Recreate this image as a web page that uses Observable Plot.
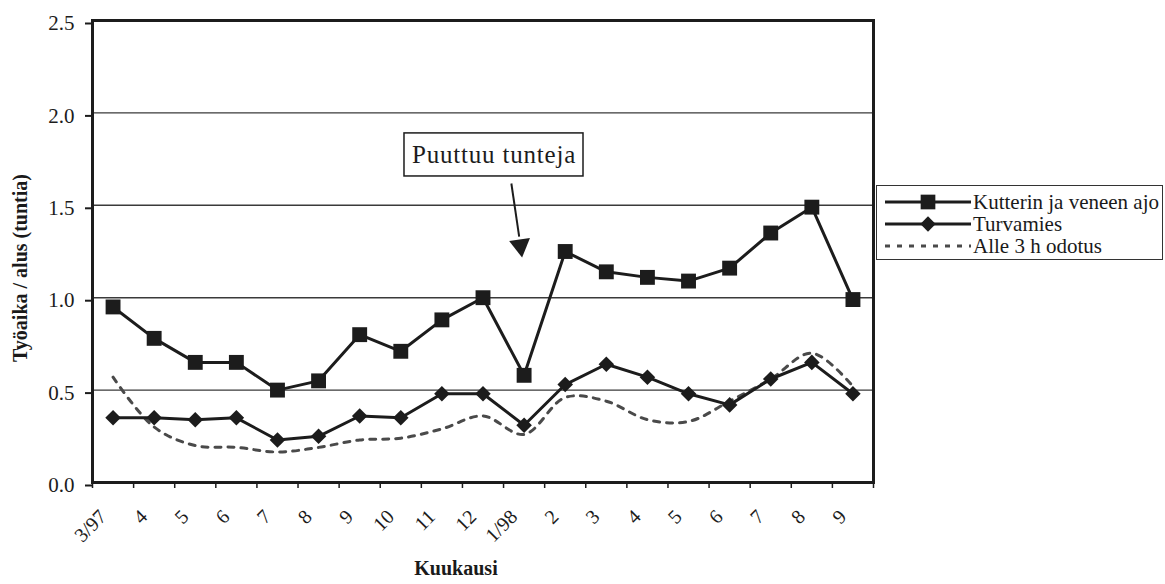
<!DOCTYPE html>
<html>
<head>
<meta charset="utf-8">
<script src="https://cdn.jsdelivr.net/npm/d3@7"></script>
<script src="https://cdn.jsdelivr.net/npm/@observablehq/plot@0.6"></script>
<style>
  html, body { margin: 0; padding: 0; background: #fff; }
  #wrap { position: relative; width: 1165px; height: 584px; color: #1a1a1a; }
  #chart { position: absolute; left: 0; top: 0; }
  .ytitle { position: absolute; left: 20px; top: 268px; transform: translate(-50%, -50%) rotate(-90deg); font-weight: bold; font-size: 20px; white-space: nowrap; line-height: 1; }
  .xtitle { position: absolute; left: 456px; top: 580px; transform: translate(-50%, -100%); font-weight: bold; font-size: 20px; white-space: nowrap; }
  .legend { position: absolute; left: 876px; top: 185px; width: 287px; height: 75px; border: 1.5px solid #333; box-sizing: border-box; background: #fff; }
  .legend .row { position: absolute; left: 0; height: 22px; display: flex; align-items: center; font-size: 21px; white-space: nowrap; }
  .legend svg { display: block; }
</style>
</head>
<body>
<div id="wrap">
  <div id="chart"></div>
  <div class="ytitle">Työaika / alus (tuntia)</div>
  <div class="xtitle">Kuukausi</div>
  <div class="legend" id="legend"></div>
</div>
<script>
// ---- data ----
const months = ["3/97","4","5","6","7","8","9","10","11","12","1/98","2","3","4","5","6","7","8","9"];
const kutteri = [0.95,0.78,0.65,0.65,0.50,0.55,0.80,0.71,0.88,1.00,0.58,1.25,1.14,1.11,1.09,1.16,1.35,1.49,0.99];
const turvamies = [0.35,0.35,0.34,0.35,0.23,0.25,0.36,0.35,0.48,0.48,0.31,0.53,0.64,0.57,0.48,0.42,0.56,0.65,0.48];
const odotus = [0.57,0.30,0.20,0.19,0.165,0.19,0.23,0.24,0.29,0.36,0.26,0.46,0.44,0.34,0.33,0.44,0.56,0.70,0.52];
const seriesNames = ["Kutterin ja veneen ajo", "Turvamies", "Alle 3 h odotus"];
const yTicks = [0, 0.5, 1.0, 1.5, 2.0, 2.5];
const noteText = "Puuttuu tunteja";
const noteBox = [7.09, 11.445, 1.656, 1.889];     // x1, x2 (category index), y1, y2 (value)
const noteArrow = [9.69, 1.618, 9.88, 1.33];      // from x,y to x,y
const noteHead = [9.91, 1.282];

// pick an installed Times-like font
function pickFont(cands) {
  const c = document.createElement("canvas").getContext("2d");
  const s = "Puuttuu tunteja 0123456789 Kutterin";
  for (const f of cands) {
    for (const base of ["monospace", "sans-serif"]) {
      c.font = `20px ${base}`; const w0 = c.measureText(s).width;
      c.font = `20px "${f}", ${base}`; const w1 = c.measureText(s).width;
      if (Math.abs(w0 - w1) > 0.5) return f;
    }
  }
  return "serif";
}
const fontName = pickFont(["Liberation Serif", "Tinos", "Times New Roman", "Times", "DejaVu Serif"]);
const fontFamily = `"${fontName}", serif`;
document.getElementById("wrap").style.fontFamily = fontFamily;

const idx = d3.range(months.length);
const kData = idx.map(i => ({i, v: kutteri[i]}));
const tData = idx.map(i => ({i, v: turvamies[i]}));
const oData = idx.map(i => ({i, v: odotus[i]}));
const ink = "#1c1c1c";

const plot = Plot.plot({
  width: 1165,
  height: 584,
  marginLeft: 92,
  marginRight: 292,
  marginTop: 20,
  marginBottom: 102,
  style: {fontFamily, background: "#fff", color: ink},
  x: {type: "linear", domain: [-0.5, months.length - 0.5]},
  y: {domain: [0, 2.5]},
  marks: [
    Plot.gridY(yTicks, {stroke: "#3a3a3a", strokeOpacity: 1, strokeWidth: 1.4}),
    Plot.axisY(yTicks, {tickFormat: d3.format(".1f"), tickSize: 7, tickPadding: 11, fontSize: 21, stroke: ink, strokeWidth: 2, label: null, dy: 3}),
    Plot.axisX(d3.range(-0.5, months.length), {tickSize: 6, tickFormat: () => "", stroke: ink, strokeWidth: 1.5, label: null}),
    Plot.axisX(idx, {tickSize: 0, tickPadding: 34, tickRotate: -45, tickFormat: i => months[i], fontSize: 20, label: null, textAnchor: "end", dx: -10, dy: -3}),
    Plot.line(oData, {x: "i", y: "v", curve: "catmull-rom", stroke: "#4a4a4a", strokeWidth: 3, strokeDasharray: "6,7"}),
    Plot.line(tData, {x: "i", y: "v", stroke: ink, strokeWidth: 3}),
    Plot.dot(tData, {x: "i", y: "v", symbol: "diamond2", r: 7.0, fill: ink, stroke: "none"}),
    Plot.line(kData, {x: "i", y: "v", stroke: ink, strokeWidth: 3}),
    Plot.dot(kData, {x: "i", y: "v", symbol: "square", r: 8.4, fill: ink, stroke: "none"}),
    Plot.rect([noteBox], {x1: d => d[0], x2: d => d[1], y1: d => d[2], y2: d => d[3], fill: "#fff", stroke: ink, strokeWidth: 1.5}),
    Plot.text([noteText], {x: (noteBox[0] + noteBox[1]) / 2, y: (noteBox[2] + noteBox[3]) / 2, text: d => d, fontSize: 25, fill: ink, className: "note"}),
    Plot.link([noteArrow], {x1: d => d[0], y1: d => d[1], x2: d => d[2], y2: d => d[3], stroke: ink, strokeWidth: 2}),
    Plot.dot([noteHead], {x: d => d[0], y: d => d[1], symbol: "triangle", r: 7.8, rotate: 172, fill: ink, stroke: "none"}),
    Plot.frame({stroke: ink, strokeWidth: 3})
  ]
});
d3.select(plot).selectAll(".note text").style("letter-spacing", "0.8px");
document.getElementById("chart").appendChild(plot);

// ---- legend (HTML) ----
const legend = document.getElementById("legend");
const rowsY = [5, 27, 49];
const markers = ["square", "diamond", "none"];
seriesNames.forEach((name, k) => {
  const row = document.createElement("div");
  row.className = "row";
  row.style.top = rowsY[k] + "px";
  const s = d3.create("svg").attr("width", 96).attr("height", 22);
  if (markers[k] === "none") {
    s.append("line").attr("x1", 8).attr("x2", 94).attr("y1", 11).attr("y2", 11)
      .attr("stroke", "#4a4a4a").attr("stroke-width", 3).attr("stroke-dasharray", "5,7");
  } else {
    s.append("line").attr("x1", 8).attr("x2", 94).attr("y1", 11).attr("y2", 11)
      .attr("stroke", ink).attr("stroke-width", 3);
    const sym = markers[k] === "square" ? d3.symbolSquare : d3.symbolDiamond2;
    const size = markers[k] === "square" ? 216 : 150;
    s.append("path").attr("d", d3.symbol(sym, size)()).attr("transform", "translate(51,11)").attr("fill", ink);
  }
  row.appendChild(s.node());
  const t = document.createElement("span");
  t.textContent = name;
  row.appendChild(t);
  legend.appendChild(row);
});
</script>
</body>
</html>
